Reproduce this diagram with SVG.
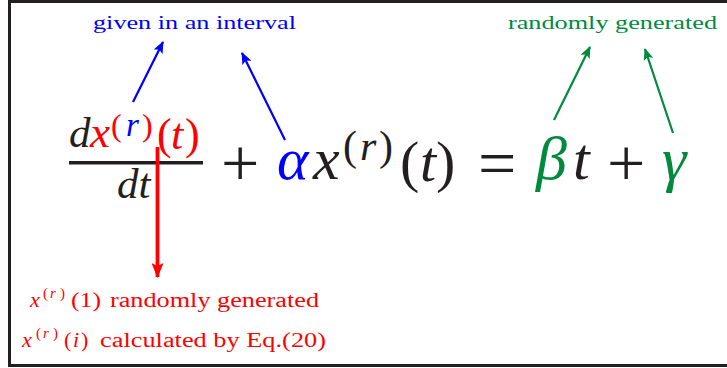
<svg xmlns="http://www.w3.org/2000/svg" width="727" height="368" viewBox="0 0 727 368">
<style>
  text { font-family: "Liberation Serif", "DejaVu Serif", serif; }
  .m { font-style: italic; }
  .u { font-style: normal; }
  .k { fill: #231f20; }
  .b { fill: #0000ff; }
  .r { fill: #ff0000; }
  .g { fill: #008a3e; }
</style>
<defs>
  <marker id="ahB" viewBox="0 0 12 10" refX="11" refY="5" markerWidth="12" markerHeight="10" orient="auto" markerUnits="userSpaceOnUse">
    <path d="M0,0 L12,5 L0,10 L2.5,5 z" fill="#0000ff"/>
  </marker>
  <marker id="ahG" viewBox="0 0 12 10" refX="11" refY="5" markerWidth="12" markerHeight="10" orient="auto" markerUnits="userSpaceOnUse">
    <path d="M0,0 L12,5 L0,10 L2.5,5 z" fill="#008a3e"/>
  </marker>
  <marker id="ahR" viewBox="0 0 15 12" refX="14" refY="6" markerWidth="15" markerHeight="12" orient="auto" markerUnits="userSpaceOnUse">
    <path d="M0,0 L15,6 L0,12 L3,6 z" fill="#ff0000"/>
  </marker>
</defs>
<rect x="0" y="0" width="727" height="368" fill="#ffffff"/>
<g id="frame">
  <path d="M740,1.5 H9.5 V365.5 H740" fill="none" stroke="#231f20" stroke-width="3"/>
</g>

<g id="equation">
  <text class="m k" x="69" y="147" font-size="43">d</text>
  <text class="m r" x="90" y="147" font-size="45">x</text>
  <text class="u r" x="111" y="136" font-size="32">(</text>
  <text class="m b" x="126" y="136" font-size="33">r</text>
  <text class="u r" x="142" y="136" font-size="32">)</text>
  <text class="u r" x="157" y="149" font-size="44">(</text>
  <text class="m r" x="171" y="149" font-size="44">t</text>
  <text class="u r" x="185" y="149" font-size="44">)</text>
  <rect x="69" y="161" width="134" height="3.5" fill="#231f20"/>
  <text class="m k" x="117" y="198" font-size="43">dt</text>
  <text class="u k" x="221" y="186" font-size="68">+</text>
  <text class="m b" x="277" y="179" font-size="60">α</text>
  <text class="m k" x="313" y="179" font-size="60">x</text>
  <text class="u k" x="343" y="160" font-size="42">(</text>
  <text class="m k" x="360" y="160" font-size="42">r</text>
  <text class="u k" x="379" y="160" font-size="42">)</text>
  <text class="u k" x="400" y="181" font-size="58">(</text>
  <text class="m k" x="420" y="181" font-size="58">t</text>
  <text class="u k" x="436" y="181" font-size="58">)</text>
  <text class="u k" x="478" y="186" font-size="68">=</text>
  <text class="m g" x="536" y="179" font-size="62">β</text>
  <text class="m k" x="573" y="179" font-size="60">t</text>
  <text class="u k" x="607" y="186" font-size="68">+</text>
  <text class="m g" x="662" y="180" font-size="62">γ</text>
</g>

<g id="label-interval">
  <text class="b" x="93" y="29" font-size="19" textLength="203" lengthAdjust="spacingAndGlyphs">given in an interval</text>
</g>
<g id="label-random">
  <text class="g" x="508" y="29" font-size="19" textLength="209" lengthAdjust="spacingAndGlyphs">randomly generated</text>
</g>
<g id="label-initial" class="r">
  <text class="m" x="30" y="307" font-size="22">x</text>
  <text x="43" y="298" font-size="15">(</text>
  <text class="m" x="50" y="298" font-size="15">r</text>
  <text x="60" y="298" font-size="15">)</text>
  <text x="71" y="307" font-size="21" textLength="30" lengthAdjust="spacingAndGlyphs">(1)</text>
  <text x="110" y="307" font-size="20" textLength="209" lengthAdjust="spacingAndGlyphs">randomly generated</text>
</g>
<g id="label-calc" class="r">
  <text class="m" x="22" y="347" font-size="22">x</text>
  <text x="36" y="338" font-size="15">(</text>
  <text class="m" x="43" y="338" font-size="15">r</text>
  <text x="53" y="338" font-size="15">)</text>
  <text x="64" y="347" font-size="22">(</text>
  <text class="m" x="73" y="347" font-size="22">i</text>
  <text x="81" y="347" font-size="22">)</text>
  <text x="100" y="347" font-size="20" textLength="226" lengthAdjust="spacingAndGlyphs">calculated by Eq.(20)</text>
</g>

<g id="connectors" fill="none">
  <line x1="133" y1="102" x2="163" y2="42" stroke="#0000ff" stroke-width="2.2" marker-end="url(#ahB)"/>
  <line x1="285" y1="140" x2="242" y2="53" stroke="#0000ff" stroke-width="2.2" marker-end="url(#ahB)"/>
  <line x1="554" y1="120" x2="590" y2="47" stroke="#008a3e" stroke-width="2.2" marker-end="url(#ahG)"/>
  <line x1="673" y1="133" x2="645" y2="49" stroke="#008a3e" stroke-width="2.2" marker-end="url(#ahG)"/>
  <line x1="157.5" y1="147" x2="157.5" y2="277" stroke="#ff0000" stroke-width="3.8" marker-end="url(#ahR)"/>
</g>
</svg>
